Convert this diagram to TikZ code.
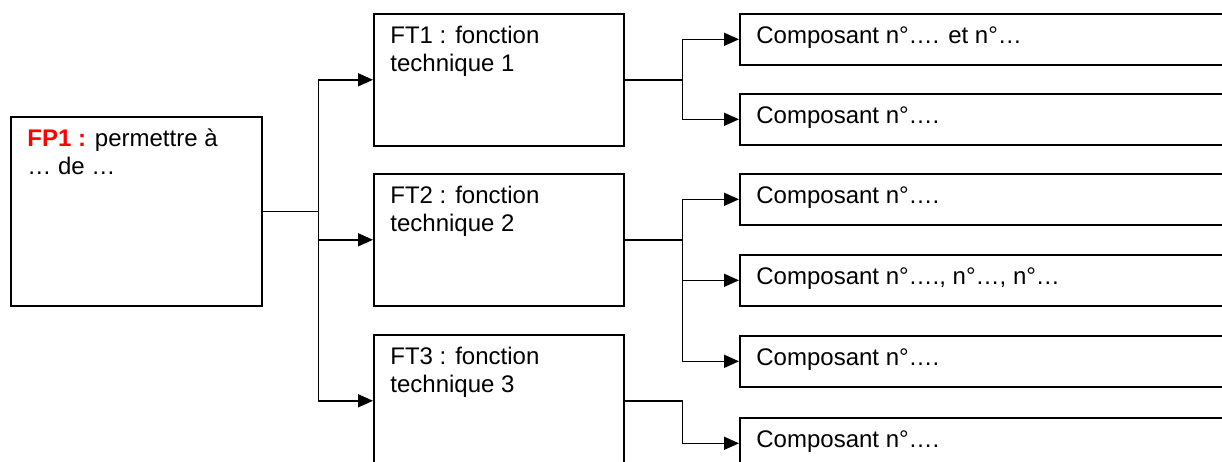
\documentclass[tikz,border=0pt]{standalone}
\usepackage{fontspec}
\setmainfont{Liberation Sans}
\usetikzlibrary{arrows.meta}
\tikzset{
  fp/.style={draw, line width=.8pt, anchor=north west, minimum width=125.5pt, minimum height=94.5pt},
  ft/.style={draw, line width=.8pt, anchor=north west, minimum width=125pt, minimum height=66pt},
  comp/.style={draw, line width=.8pt, anchor=north west, minimum width=260pt, minimum height=25.5pt},
  texte/.style={anchor=base west, align=left, inner sep=0pt, xshift=8.5pt, yshift=-15.3pt, font=\fontsize{12}{14}\selectfont},
  texte2/.style={anchor=base west, align=left, inner sep=0pt, xshift=8.5pt, yshift=-29.3pt, font=\fontsize{12}{14}\selectfont},
  lien/.style={line width=.8pt},
  fleche/.style={line width=.8pt, -{Triangle[length=7.5pt,width=6.5pt]}}
}
\begin{document}
\begin{tikzpicture}[x=.5pt,y=-.5pt]
\useasboundingbox (0,0) rectangle (1222,461);
\clip (0,0) rectangle (1222,461);
\node[fp, label={[texte2]north west:{\textcolor{red}{\textbf{FP1 :}} permettre à\\… de …}}] (fp1) at (10,116){};
\node[ft, label={[texte2]north west:{FT1 : fonction\\technique 1}}] (ft1) at (373,13){};
\node[ft, label={[texte2]north west:{FT2 : fonction\\technique 2}}] (ft2) at (373,173){};
\node[ft, label={[texte2]north west:{FT3 : fonction\\technique 3}}] (ft3) at (373,334){};
\node[comp, label={[texte]north west:{Composant n°…. et n°…}}] (c1) at (739,13){};
\node[comp, label={[texte]north west:{Composant n°….}}] (c2) at (739,93){};
\node[comp, label={[texte]north west:{Composant n°….}}] (c3) at (739,173){};
\node[comp, label={[texte]north west:{Composant n°…., n°…, n°…}}] (c4) at (739,254){};
\node[comp, label={[texte]north west:{Composant n°….}}] (c5) at (739,335){};
\node[comp, label={[texte]north west:{Composant n°….}}] (c6) at (739,417){};
\draw[lien](fp1.east) -- ++(56,0) coordinate (j0);
\draw[fleche](j0) |- (ft1.west);
\draw[fleche](j0) |- (ft2.west);
\draw[fleche](j0) |- (ft3.west);
\draw[lien](ft1.east) -- ++(58,0) coordinate (j1);
\draw[fleche](j1) |- (c1.west);
\draw[fleche](j1) |- (c2.west);
\draw[lien](ft2.east) -- ++(58,0) coordinate (j2);
\draw[fleche](j2) |- (c3.west);
\draw[fleche](j2) |- (c4.west);
\draw[fleche](j2) |- (c5.west);
\draw[lien](ft3.east) -- ++(58,0) coordinate (j3);
\draw[fleche](j3) |- (c6.west);
\end{tikzpicture}
\end{document}
